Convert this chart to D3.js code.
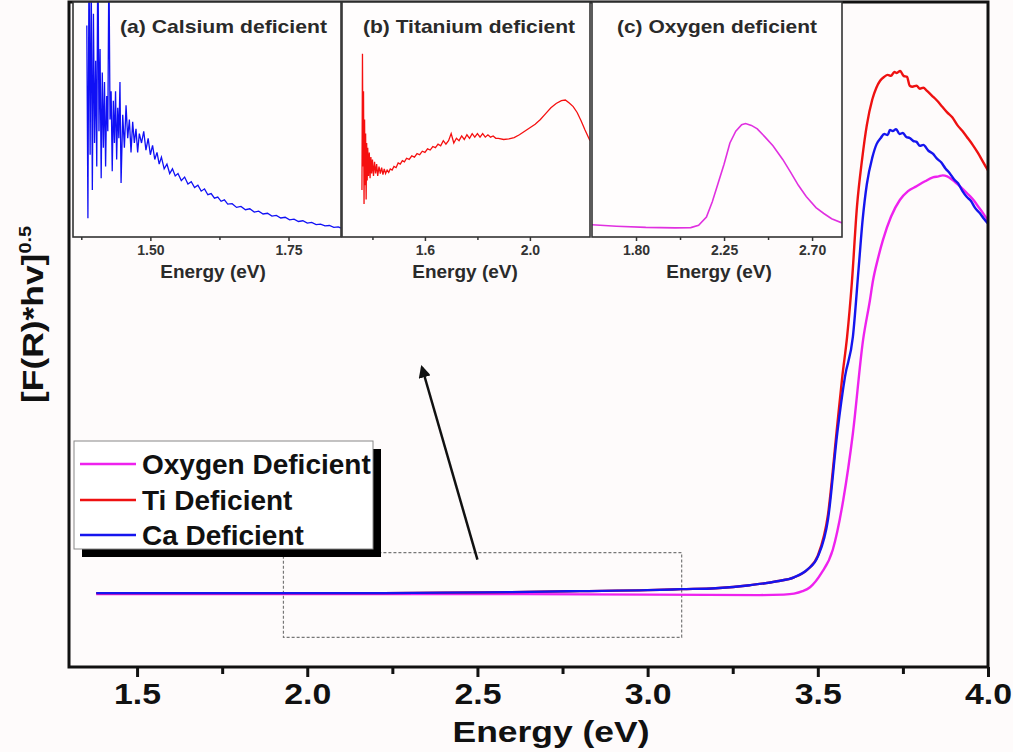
<!DOCTYPE html>
<html>
<head>
<meta charset="utf-8">
<script src="https://cdn.jsdelivr.net/npm/d3@7"></script>
<style>
body { margin: 0; background: #fefbfb; }
text { font-family: "Liberation Sans", Arial, sans-serif; font-weight: bold; }
</style>
</head>
<body>
<div id="chart"></div>
<script>
// Main plot data, energy (eV) vs [F(R)*hv]^0.5 in arbitrary units
var seriesNames = ["Oxygen Deficient", "Ti Deficient", "Ca Deficient"];
var seriesColors = ["#ee22ee", "#ee1111", "#1515ee"];

var oxygenMain = [[1.38,0.74],[2.0,0.74],[2.5,0.74],[3.0,0.735],[3.33,0.73],[3.40,0.735],[3.43,0.745],[3.455,0.77],[3.477,0.81],[3.51,0.95],[3.544,1.19],[3.575,1.70],[3.603,2.37],[3.633,3.32],[3.653,3.72],[3.662,3.92],[3.677,4.15],[3.691,4.33],[3.715,4.57],[3.741,4.74],[3.765,4.83],[3.79,4.88],[3.815,4.93],[3.838,4.97],[3.855,4.98],[3.867,4.99],[3.88,4.98],[3.897,4.94],[3.92,4.87],[3.938,4.81],[3.955,4.75],[3.97,4.68],[3.985,4.61],[4.0,4.53]];

var tiMain = [[1.38,0.75],[1.6,0.75],[1.8,0.75],[2.0,0.75],[2.2,0.75],[2.4,0.755],[2.6,0.76],[2.8,0.77],[3.0,0.78],[3.1,0.79],[3.2,0.80],[3.3,0.83],[3.38,0.87],[3.43,0.91],[3.47,0.99],[3.50,1.13],[3.53,1.55],[3.557,2.45],[3.572,2.95],[3.586,3.35],[3.60,3.90],[3.615,4.67],[3.63,5.15],[3.644,5.50],[3.66,5.76],[3.672,5.88],[3.683,5.95],[3.695,5.99],[3.705,6.01],[3.715,6.00],[3.725,6.04],[3.732,6.03],[3.742,6.05],[3.752,6.00],[3.762,5.99],[3.770,5.90],[3.778,5.89],[3.79,5.90],[3.80,5.87],[3.81,5.88],[3.82,5.85],[3.835,5.80],[3.85,5.75],[3.865,5.69],[3.88,5.63],[3.895,5.58],[3.91,5.50],[3.925,5.44],[3.938,5.38],[3.955,5.30],[3.97,5.22],[3.985,5.13],[4.0,5.04]];

var caMain = [[1.38,0.75],[1.6,0.75],[1.8,0.75],[2.0,0.75],[2.2,0.75],[2.4,0.755],[2.6,0.76],[2.8,0.77],[3.0,0.78],[3.1,0.79],[3.2,0.80],[3.3,0.83],[3.38,0.87],[3.43,0.91],[3.47,0.99],[3.50,1.12],[3.53,1.50],[3.557,2.37],[3.58,2.95],[3.603,3.35],[3.62,4.05],[3.632,4.55],[3.644,4.90],[3.66,5.17],[3.673,5.31],[3.685,5.37],[3.695,5.41],[3.705,5.40],[3.712,5.45],[3.72,5.44],[3.73,5.46],[3.74,5.41],[3.75,5.42],[3.76,5.38],[3.77,5.37],[3.78,5.34],[3.79,5.33],[3.80,5.29],[3.81,5.30],[3.825,5.24],[3.838,5.21],[3.85,5.16],[3.863,5.12],[3.875,5.06],[3.888,5.01],[3.90,4.95],[3.912,4.91],[3.925,4.83],[3.938,4.77],[3.95,4.73],[3.962,4.66],[3.975,4.61],[3.988,4.55],[4.0,4.50]];

var xMajor = [1.5, 2.0, 2.5, 3.0, 3.5, 4.0];
var xMinor = [1.75, 2.25, 2.75, 3.25, 3.75];

// zoomed region and arrow, in data units
var zoomBox = [[1.93, 0.30], [3.10, 1.16]];
var arrowPts = [[2.50, 1.09], [2.337, 3.04]];

// Inset data (arbitrary units 0-100)
var insetCa = [[1.385,90],[1.387,8],[1.389,120],[1.391,35],[1.393,110],[1.395,20],[1.397,95],[1.399,40],[1.401,75],[1.403,30],[1.405,130],[1.407,45],[1.409,80],[1.411,25],[1.413,70],[1.415,38],[1.417,66],[1.419,30],[1.421,60],[1.423,45],[1.425,118],[1.427,50],[1.429,62],[1.431,28],[1.433,58],[1.435,40],[1.437,62],[1.439,33],[1.441,55],[1.443,42],[1.445,66],[1.447,23],[1.450,52],[1.453,38],[1.456,56],[1.459,42],[1.462,50],[1.465,36],[1.468,49],[1.471,40],[1.474,46],[1.477,36],[1.480,44],[1.484,40],[1.488,45],[1.492,37],[1.496,42],[1.500,35],[1.504,39],[1.508,33],[1.512,36],[1.516,31],[1.520,34],[1.525,29],[1.530,31],[1.535,27],[1.540,29],[1.545,26],[1.550,27],[1.556,24],[1.562,25.5],[1.568,22.5],[1.574,23.5],[1.580,21],[1.586,22],[1.592,19.5],[1.598,20.5],[1.604,18],[1.610,18.5],[1.616,16.5],[1.622,17],[1.628,15.2],[1.634,15.8],[1.640,14],[1.648,14.2],[1.656,12.6],[1.664,13],[1.672,11.6],[1.680,12],[1.688,10.6],[1.696,11],[1.704,9.8],[1.712,10.1],[1.720,8.9],[1.728,9.2],[1.736,8.1],[1.744,8.4],[1.752,7.3],[1.760,7.6],[1.768,6.6],[1.776,6.9],[1.784,5.9],[1.792,6.2],[1.800,5.3],[1.808,5.5],[1.816,4.7],[1.824,4.9],[1.832,4.1],[1.840,4.3],[1.845,3.8]];

var insetTi = [[1.360,20],[1.362,78],[1.364,30],[1.366,62],[1.368,14],[1.370,50],[1.372,22],[1.374,44],[1.376,16],[1.378,40],[1.380,24],[1.382,38],[1.385,26],[1.388,36],[1.391,25],[1.394,34],[1.397,27],[1.400,33],[1.404,26],[1.408,32],[1.412,27],[1.416,31],[1.420,26],[1.425,30],[1.430,27],[1.435,29.5],[1.440,26.5],[1.445,29],[1.450,27],[1.456,28.5],[1.462,27.5],[1.468,29],[1.475,28.5],[1.482,30],[1.490,29.5],[1.498,31.5],[1.506,31],[1.514,32.5],[1.522,32],[1.530,33.5],[1.540,33],[1.550,34.5],[1.560,34],[1.570,35.5],[1.580,35],[1.590,36.5],[1.600,36],[1.610,37.5],[1.620,37],[1.630,38.5],[1.640,38],[1.650,39.5],[1.660,38.8],[1.670,41],[1.680,39.5],[1.690,41],[1.700,44],[1.710,40],[1.720,42],[1.730,41],[1.740,43],[1.750,41.5],[1.760,43.5],[1.770,42],[1.780,44],[1.790,42.5],[1.800,44],[1.810,42.5],[1.820,44],[1.830,42.5],[1.840,43.5],[1.850,42.5],[1.860,43],[1.870,42],[1.880,42],[1.900,41.5],[1.920,41.8],[1.940,42.3],[1.960,43.5],[1.980,45],[2.000,46.5],[2.020,48],[2.040,50],[2.060,52.5],[2.080,55],[2.100,56.8],[2.120,58],[2.135,58.3],[2.150,57],[2.165,55.5],[2.180,53],[2.195,49.5],[2.210,45.5],[2.229,41]];

var insetO = [[1.575,5.2],[1.70,4.6],[1.85,4.1],[2.00,3.9],[2.08,4.0],[2.12,5.0],[2.16,8.5],[2.19,15],[2.22,23],[2.25,31],[2.28,40],[2.31,45],[2.34,47.8],[2.36,48.3],[2.39,47.5],[2.42,46],[2.46,42.5],[2.50,38.8],[2.55,33],[2.59,27.6],[2.63,22],[2.67,17.2],[2.72,12.5],[2.76,10],[2.80,7.8],[2.853,6.0]];

var insetTitles = ["(a) Calsium deficient", "(b) Titanium deficient", "(c) Oxygen deficient"];
var insetDomains = [[1.36, 1.845], [1.284, 2.229], [1.575, 2.853]];
var insetMajor = [[1.5, 1.75], [1.6, 2.0], [1.8, 2.25, 2.7]];
var insetMinor = [[1.375, 1.625], [1.4, 1.8], [2.025, 2.475]];
var insetFormats = [".2f", ".1f", ".2f"];
var insetData = [insetCa, insetTi, insetO];
var insetColors = ["#1010f5", "#f51010", "#e030e0"];

// layout
var width = 1013, height = 752;
var plot = {left: 69, right: 988, top: 2, bottom: 667};
var insetBoxes = [[73, 341], [342, 590], [592, 842]];
var insetTop = 2, insetBottom = 237;
var insetTitleX = [120, 363, 617];
var insetTitleLen = [207, 212, 200];
var insetLabelX = [213, 465, 719];

var svg = d3.select("#chart").append("svg")
    .attr("width", width)
    .attr("height", height);

svg.append("rect").attr("width", width).attr("height", height).attr("fill", "#fefbfb");

var x = d3.scaleLinear().domain([1.3, 4.0]).range([plot.left, plot.right]);
var y = d3.scaleLinear().domain([0, 6.75]).range([plot.bottom, plot.top]);

var mainLine = d3.line()
    .x(function(d) { return x(d[0]); })
    .y(function(d) { return y(d[1]); })
    .curve(d3.curveMonotoneX);

// zoom region
svg.append("rect")
    .attr("x", x(zoomBox[0][0]))
    .attr("y", y(zoomBox[1][1]))
    .attr("width", x(zoomBox[1][0]) - x(zoomBox[0][0]))
    .attr("height", y(zoomBox[0][1]) - y(zoomBox[1][1]))
    .attr("fill", "none")
    .attr("stroke", "#777")
    .attr("stroke-width", 1.2)
    .attr("stroke-dasharray", "3,2");

// curves
svg.selectAll(".curve")
    .data([oxygenMain, tiMain, caMain])
    .enter()
    .append("path")
    .attr("class", "curve")
    .attr("d", mainLine)
    .attr("fill", "none")
    .attr("stroke", function(d, i) { return seriesColors[i]; })
    .attr("stroke-width", 2.4);

// arrow
svg.append("defs").append("marker")
    .attr("id", "head")
    .attr("viewBox", "0 0 10 10")
    .attr("refX", 8).attr("refY", 5)
    .attr("markerWidth", 5).attr("markerHeight", 5)
    .attr("orient", "auto")
    .append("path")
    .attr("d", "M0,0 L10,5 L0,10 z")
    .attr("fill", "#111");

svg.append("line")
    .attr("x1", x(arrowPts[0][0])).attr("y1", y(arrowPts[0][1]))
    .attr("x2", x(arrowPts[1][0])).attr("y2", y(arrowPts[1][1]))
    .attr("stroke", "#111")
    .attr("stroke-width", 2.5)
    .attr("marker-end", "url(#head)");

// main x axis
var xAxisG = svg.append("g")
    .attr("transform", "translate(0," + plot.bottom + ")")
    .call(d3.axisBottom(x).tickValues(xMajor).tickSize(10).tickFormat(d3.format(".1f")));
xAxisG.select(".domain").remove();
xAxisG.selectAll("line").attr("stroke", "#111").attr("stroke-width", 3);
xAxisG.selectAll("text")
    .attr("y", 16)
    .attr("fill", "#111")
    .style("font-size", "30px")
    .attr("textLength", 47)
    .attr("lengthAdjust", "spacingAndGlyphs");

var xMinorG = svg.append("g")
    .attr("transform", "translate(0," + plot.bottom + ")")
    .call(d3.axisBottom(x).tickValues(xMinor).tickSize(7).tickFormat(""));
xMinorG.select(".domain").remove();
xMinorG.selectAll("line").attr("stroke", "#111").attr("stroke-width", 3);

// frame
svg.append("rect")
    .attr("x", plot.left).attr("y", plot.top)
    .attr("width", plot.right - plot.left)
    .attr("height", plot.bottom - plot.top)
    .attr("fill", "none")
    .attr("stroke", "#111")
    .attr("stroke-width", 3);

svg.append("text")
    .attr("x", 551).attr("y", 742)
    .attr("text-anchor", "middle")
    .attr("fill", "#111")
    .style("font-size", "30px")
    .attr("textLength", 197)
    .attr("lengthAdjust", "spacingAndGlyphs")
    .text("Energy (eV)");

var yLabel = svg.append("text")
    .attr("transform", "translate(43,403) rotate(-90) scale(1.18,1)")
    .attr("fill", "#111")
    .style("font-size", "30px")
    .text("[F(R)*hv]");
yLabel.append("tspan").attr("dy", -12).style("font-size", "17px").text("0.5");

// legend
var legend = svg.append("g");
legend.append("rect")
    .attr("x", 82).attr("y", 449).attr("width", 299).attr("height", 108)
    .attr("fill", "#000");
legend.append("rect")
    .attr("x", 74).attr("y", 441).attr("width", 299).attr("height", 108)
    .attr("fill", "#fff")
    .attr("stroke", "#888")
    .attr("stroke-width", 1);

var legendRows = legend.selectAll(".row")
    .data(seriesNames)
    .enter()
    .append("g")
    .attr("class", "row")
    .attr("transform", function(d, i) { return "translate(0," + [464, 500, 535][i] + ")"; });
legendRows.append("line")
    .attr("x1", 80).attr("x2", 136)
    .attr("stroke", function(d, i) { return seriesColors[i]; })
    .attr("stroke-width", 2.4);
legendRows.append("text")
    .attr("x", 142).attr("y", 10)
    .attr("fill", "#111")
    .style("font-size", "28px")
    .text(function(d) { return d; });

// insets
insetTitles.forEach(function(title, i) {
    var box = insetBoxes[i];
    var g = svg.append("g");
    var ix = d3.scaleLinear().domain(insetDomains[i]).range(box);
    var iy = d3.scaleLinear().domain([0, 100]).range([insetBottom, insetTop]);

    g.append("rect")
        .attr("x", box[0]).attr("y", insetTop)
        .attr("width", box[1] - box[0]).attr("height", insetBottom - insetTop)
        .attr("fill", "#fffdfd");

    g.append("clipPath").attr("id", "clip" + i)
        .append("rect")
        .attr("x", box[0]).attr("y", insetTop)
        .attr("width", box[1] - box[0]).attr("height", insetBottom - insetTop);

    g.append("path")
        .datum(insetData[i])
        .attr("clip-path", "url(#clip" + i + ")")
        .attr("d", d3.line().x(function(d) { return ix(d[0]); }).y(function(d) { return iy(d[1]); }))
        .attr("fill", "none")
        .attr("stroke", insetColors[i])
        .attr("stroke-width", i == 2 ? 1.6 : 1.3);

    var ax = g.append("g")
        .attr("transform", "translate(0," + insetBottom + ")")
        .call(d3.axisBottom(ix).tickValues(insetMajor[i]).tickSize(4).tickFormat(d3.format(insetFormats[i])));
    ax.select(".domain").remove();
    ax.selectAll("line").attr("stroke", "#333").attr("stroke-width", 1.5);
    ax.selectAll("text").attr("y", 8).attr("fill", "#333").style("font-size", "14px");

    var axm = g.append("g")
        .attr("transform", "translate(0," + insetBottom + ")")
        .call(d3.axisBottom(ix).tickValues(insetMinor[i]).tickSize(3).tickFormat(""));
    axm.select(".domain").remove();
    axm.selectAll("line").attr("stroke", "#333").attr("stroke-width", 1.5);

    g.append("rect")
        .attr("x", box[0]).attr("y", insetTop)
        .attr("width", box[1] - box[0]).attr("height", insetBottom - insetTop)
        .attr("fill", "none")
        .attr("stroke", "#333")
        .attr("stroke-width", 1.6);

    g.append("text")
        .attr("x", insetTitleX[i]).attr("y", 33)
        .attr("fill", "#2a2a2a")
        .style("font-size", "19px")
        .attr("textLength", insetTitleLen[i])
        .attr("lengthAdjust", "spacingAndGlyphs")
        .text(title);

    g.append("text")
        .attr("x", insetLabelX[i]).attr("y", 278)
        .attr("text-anchor", "middle")
        .attr("fill", "#2a2a2a")
        .style("font-size", "19px")
        .text("Energy (eV)");
});
</script>
</body>
</html>
